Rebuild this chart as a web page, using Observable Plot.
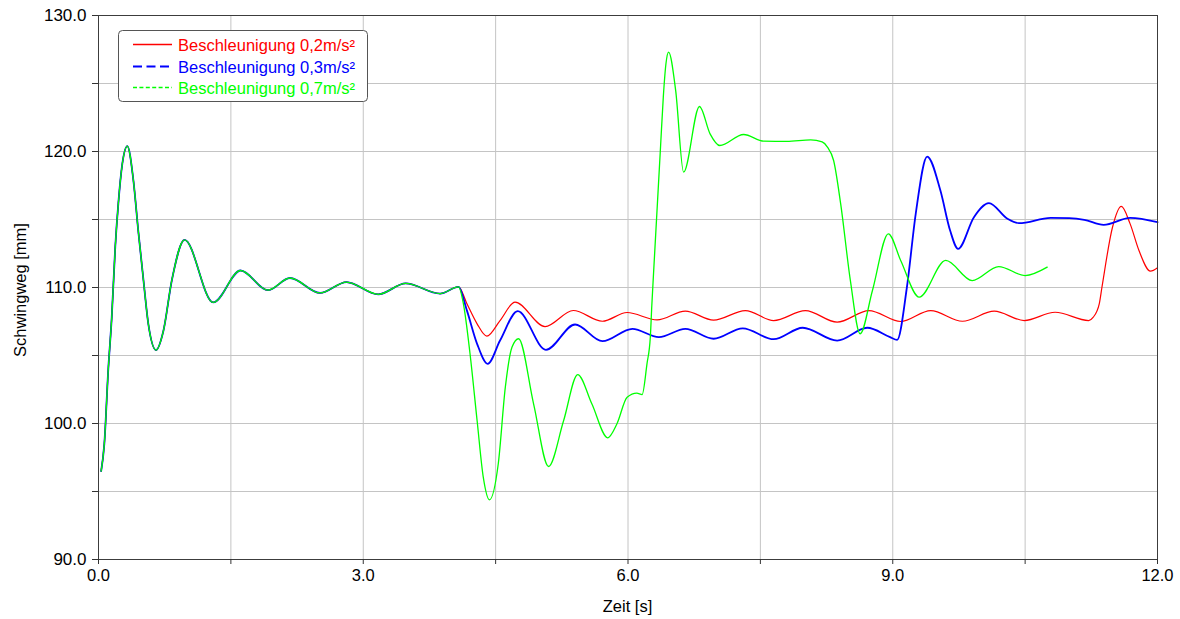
<!DOCTYPE html>
<html>
<head>
<meta charset="utf-8">
<script src="https://cdn.jsdelivr.net/npm/d3@7"></script>
<script src="https://cdn.jsdelivr.net/npm/@observablehq/plot@0.6"></script>
<style>
  html, body { margin: 0; padding: 0; background: #fff; }
  #chart { width: 1180px; height: 619px; }
</style>
</head>
<body>
<div id="chart"></div>
<script>
// ---- Data ----
const seriesNames = ["Beschleunigung 0,2m/s²", "Beschleunigung 0,3m/s²", "Beschleunigung 0,7m/s²"];
const seriesColors = ["#ff0000", "#0000ff", "#00ff00"];

// shared start (all three curves coincide until ~4.08 s)
const commonT = [0.03, 0.066, 0.11, 0.15, 0.19, 0.225, 0.27, 0.327, 0.395, 0.45, 0.51, 0.565, 0.652, 0.735, 0.83, 0.975, 1.30, 1.61, 1.92, 2.17, 2.51, 2.81, 3.17, 3.48, 3.87, 4.08];
const commonY = [96.5, 98.5, 103.9, 107.8, 113.0, 116.2, 119.1, 120.4, 117.9, 114.2, 110.5, 107.3, 105.4, 106.8, 110.5, 113.5, 108.9, 111.25, 109.8, 110.7, 109.6, 110.4, 109.5, 110.3, 109.55, 110.05];

const redT = [4.175, 4.29, 4.40, 4.55, 4.72, 5.06, 5.38, 5.71, 5.99, 6.33, 6.65, 6.97, 7.33, 7.65, 8.01, 8.37, 8.73, 9.09, 9.43, 9.79, 10.15, 10.49, 10.84, 11.22, 11.27, 11.34, 11.37, 11.49, 11.59, 11.69, 11.79, 11.92, 12.0];
const redY = [108.8, 107.33, 106.42, 107.57, 108.92, 107.13, 108.31, 107.52, 108.16, 107.62, 108.26, 107.6, 108.3, 107.57, 108.3, 107.45, 108.3, 107.5, 108.3, 107.52, 108.26, 107.57, 108.18, 107.57, 107.8, 108.8, 110.0, 114.43, 115.96, 114.68, 112.72, 111.2, 111.45];

const blueT = [4.175, 4.29, 4.41, 4.55, 4.75, 5.07, 5.40, 5.71, 6.05, 6.35, 6.65, 6.97, 7.30, 7.65, 7.98, 8.37, 8.71, 8.97, 9.05, 9.16, 9.26, 9.39, 9.54, 9.65, 9.74, 9.92, 10.09, 10.30, 10.43, 10.79, 11.0, 11.17, 11.39, 11.69, 12.0];
const blueY = [108.3, 105.86, 104.39, 106.1, 108.26, 105.42, 107.28, 106.05, 106.96, 106.35, 106.96, 106.23, 107.0, 106.2, 107.04, 106.1, 107.04, 106.35, 106.15, 110.0, 115.4, 119.63, 117.13, 114.19, 112.84, 115.17, 116.2, 115.05, 114.73, 115.12, 115.1, 114.98, 114.61, 115.12, 114.8];

const greenT = [4.135, 4.21, 4.29, 4.36, 4.43, 4.53, 4.61, 4.685, 4.76, 4.93, 5.10, 5.27, 5.43, 5.59, 5.77, 5.875, 5.99, 6.10, 6.16, 6.215, 6.253, 6.27, 6.29, 6.33, 6.37, 6.40, 6.43, 6.46, 6.54, 6.63, 6.81, 6.93, 7.04, 7.31, 7.54, 7.80, 8.07, 8.20, 8.26, 8.33, 8.41, 8.52, 8.63, 8.77, 8.95, 9.09, 9.30, 9.60, 9.90, 10.20, 10.50, 10.75];
const greenY = [108.8, 105.13, 100.22, 96.05, 94.39, 97.04, 102.67, 105.6, 106.23, 101.45, 96.84, 100.2, 103.6, 101.45, 98.95, 99.98, 101.93, 102.23, 102.13, 104.39, 106.35, 108.7, 111.1, 115.8, 120.5, 124.0, 126.45, 127.3, 124.49, 118.48, 123.31, 121.3, 120.44, 121.25, 120.76, 120.74, 120.86, 120.7, 120.32, 119.34, 116.15, 110.5, 106.6, 109.78, 113.95, 111.99, 109.29, 111.99, 110.51, 111.54, 110.88, 111.5];

const xTicks = [0, 1.5, 3, 4.5, 6, 7.5, 9, 10.5, 12];
const yTicks = [90, 95, 100, 105, 110, 115, 120, 125, 130];
const xGridTicks = [1.5, 3, 4.5, 6, 7.5, 9, 10.5];
const yGridTicks = [95, 100, 105, 110, 115, 120, 125];

// ---- Build rows ----
function build(name, t, y) {
  const rows = commonT.map((tt, i) => ({t: tt, v: commonY[i], s: name}));
  t.forEach((tt, i) => rows.push({t: tt, v: y[i], s: name}));
  return rows;
}
const redRows = build(seriesNames[0], redT, redY);
const blueRows = build(seriesNames[1], blueT, blueY);
const greenRows = build(seriesNames[2], greenT, greenY);

const FONT = "'Liberation Sans', Arial, sans-serif";

const plot = Plot.plot({
  width: 1180,
  height: 619,
  marginLeft: 98,
  marginRight: 23,
  marginTop: 15,
  marginBottom: 60,
  style: {fontFamily: FONT, fontSize: "16.5px", color: "#000", background: "#fff", overflow: "visible"},
  x: {domain: [0, 12]},
  y: {domain: [90, 130]},
  marks: [
    Plot.gridX({ticks: xGridTicks, stroke: "#c4c4c4", strokeOpacity: 1, strokeWidth: 1}),
    Plot.gridY({ticks: yGridTicks, stroke: "#c4c4c4", strokeOpacity: 1, strokeWidth: 1}),
    Plot.line(redRows, {x: "t", y: "v", stroke: seriesColors[0], strokeWidth: 1.2, curve: "monotone-x"}),
    Plot.line(blueRows, {x: "t", y: "v", stroke: seriesColors[1], strokeWidth: 1.8, curve: "monotone-x"}),
    Plot.line(greenRows, {x: "t", y: "v", stroke: seriesColors[2], strokeWidth: 1.3, curve: "monotone-x"}),
    Plot.frame({stroke: "#3c3c3c", strokeWidth: 1}),
    Plot.axisX({ticks: xTicks, tickFormat: d => (Math.abs(d % 3) < 1e-9 ? d.toFixed(1) : ""), tickSize: 5, tickPadding: 5, stroke: "#333", label: null}),
    Plot.axisY({ticks: yTicks, tickFormat: d => (d % 10 === 0 ? d.toFixed(1) : ""), tickSize: 6, tickPadding: 6, stroke: "#333", label: null, fontSize: 17})
  ]
});

document.getElementById("chart").appendChild(plot);

// ---- Axis titles and legend ----
const svg = d3.select(plot);
svg.append("text")
  .attr("x", 627.5).attr("y", 612)
  .attr("text-anchor", "middle")
  .attr("font-family", FONT).attr("font-size", 16.5).attr("fill", "#000")
  .text("Zeit [s]");
svg.append("text")
  .attr("transform", "translate(26,290) rotate(-90)")
  .attr("text-anchor", "middle")
  .attr("font-family", FONT).attr("font-size", 16.5).attr("fill", "#000")
  .text("Schwingweg [mm]");

const lg = svg.append("g");
lg.append("rect")
  .attr("x", 118.5).attr("y", 30.5).attr("width", 249).attr("height", 71)
  .attr("rx", 4).attr("fill", "#fff").attr("stroke", "#555").attr("stroke-width", 1);
const dashes = [null, "9,4.5", "4,2.4"];
const widths = [1.5, 2, 1.5];
const rowY = [44.5, 66.5, 87.5];
seriesNames.forEach((name, i) => {
  const l = lg.append("line")
    .attr("x1", 133).attr("x2", 172).attr("y1", rowY[i]).attr("y2", rowY[i])
    .attr("stroke", seriesColors[i]).attr("stroke-width", widths[i]);
  if (dashes[i]) l.attr("stroke-dasharray", dashes[i]);
  lg.append("text")
    .attr("x", 178).attr("y", rowY[i] + 6)
    .attr("text-anchor", "start")
    .attr("font-family", FONT).attr("font-size", 16.5).attr("fill", seriesColors[i])
    .text(name);
});
</script>
</body>
</html>
